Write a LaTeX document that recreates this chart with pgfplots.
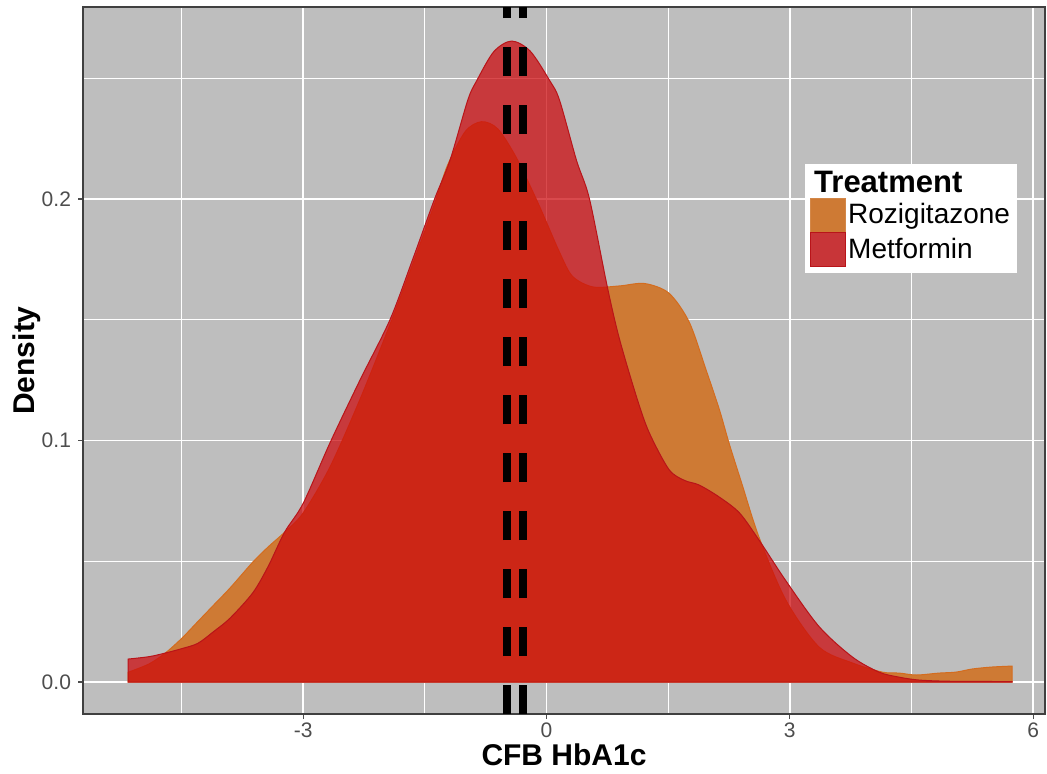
\documentclass[border=0pt]{standalone}
\usepackage{fontspec}
\setmainfont{Liberation Sans}
\usepackage{pgfplots}
\pgfplotsset{compat=1.18}

\definecolor{panelgrey}{RGB}{190,190,190}
\definecolor{rosiFill}{RGB}{206,122,52}
\definecolor{rosiLine}{RGB}{212,108,30}
\definecolor{metFill}{RGB}{204,8,12}
\definecolor{metLine}{RGB}{185,20,25}
\definecolor{metKey}{RGB}{200,53,56}
\definecolor{tickgrey}{RGB}{77,77,77}

\begin{document}
\begin{tikzpicture}
\useasboundingbox (0,0) rectangle (523.5pt,386.5pt);
\begin{axis}[
  at={(41.5pt,29.5pt)}, anchor=south west,
  scale only axis, width=481pt, height=353.5pt,
  xmin=-5.715, xmax=6.147, ymin=-0.01325, ymax=0.2795,
  xtick={-3,0,3,6}, minor xtick={-4.5,-1.5,1.5,4.5},
  ytick={0,0.1,0.2}, minor ytick={0.05,0.15,0.25},
  yticklabel style={/pgf/number format/.cd, fixed, fixed zerofill, precision=1},
  /pgf/number format/assume math mode=true,
  grid=both,
  major grid style={white, line width=0.8pt},
  minor grid style={white, line width=0.4pt},
  axis background/.style={fill=panelgrey},
  axis line style={draw=black!75, line width=0.6pt},
  tick style={tickgrey, line width=0.6pt},
  tick align=outside, major tick length=2.5pt, minor tick length=0pt,
  xtick pos=lower, ytick pos=left,
  ticklabel style={font=\fontsize{10.5}{12}\selectfont, text=tickgrey},
  xticklabel style={yshift=1.5pt},
  xlabel={CFB HbA1c}, ylabel={Density},
  label style={font=\bfseries\fontsize{15}{18}\selectfont},
  xlabel style={at={(axis description cs:0.5,-0.057)}, anchor=center},
  ylabel style={at={(axis description cs:-0.0582,0.5)}, anchor=center},
  legend style={at={(axis description cs:0.7505,0.779)}, anchor=north west,
    draw=none, fill=white, inner xsep=2.5pt, inner ysep=3pt, row sep=0pt,
    font=\fontsize{14}{16}\selectfont,
    nodes={inner sep=1pt},
    /tikz/every even column/.append style={column sep=2pt}},
  legend cell align=left,
  legend image code/.code={\draw[#1] (0pt,-8.4pt) rectangle (17.5pt,8.4pt);},
]
\addlegendimage{empty legend}
\addlegendentry{\hspace{-17pt}\textbf{\fontsize{15.5}{18}\selectfont Treatment}}
\addlegendimage{fill=rosiFill, draw=rosiFill!90!white}
\addlegendentry{Rozigitazone}
\addlegendimage{fill=metKey, draw=metLine}
\addlegendentry{Metformin}

% Rozigitazone density
\addplot[forget plot, smooth, tension=0.5, fill=rosiFill, draw=rosiLine, line width=0.5pt] coordinates {
(-5.16,0.004) (-4.9,0.0075) (-4.7,0.012) (-4.5,0.018) (-4.3,0.025) (-4.1,0.032)
(-3.9,0.039) (-3.62,0.0497) (-3.43,0.056) (-3.23,0.062) (-3.0,0.070) (-2.67,0.089)
(-2.3,0.117) (-1.93,0.148) (-1.65,0.173) (-1.38,0.198) (-1.22,0.214) (-1.0,0.228)
(-0.8,0.232) (-0.6,0.229) (-0.37,0.217) (-0.1,0.198) (0.16,0.178) (0.32,0.168)
(0.57,0.1636) (0.9,0.164) (1.21,0.165) (1.51,0.161) (1.76,0.149) (1.97,0.129)
(2.13,0.113) (2.25,0.099) (2.41,0.082) (2.62,0.060) (2.95,0.034) (3.36,0.0145)
(3.77,0.0079) (4.14,0.0041) (4.35,0.0037) (4.56,0.0029) (4.84,0.0037) (5.05,0.0041)
(5.25,0.0054) (5.49,0.0062) (5.74,0.0066)
} \closedcycle;

% Metformin density
\addplot[forget plot, smooth, tension=0.5, fill=metFill, fill opacity=0.73, draw=metLine, line width=0.5pt] coordinates {
(-5.16,0.0095) (-4.9,0.0105) (-4.7,0.012) (-4.5,0.0138) (-4.3,0.016) (-4.1,0.021)
(-3.9,0.0265) (-3.62,0.037) (-3.43,0.048) (-3.23,0.062) (-3.0,0.074) (-2.67,0.099)
(-2.3,0.125) (-1.93,0.150) (-1.65,0.175) (-1.38,0.2) (-1.19,0.216) (-0.97,0.241)
(-0.86,0.249) (-0.65,0.261) (-0.43,0.2654) (-0.2,0.2612) (0.04,0.249) (0.16,0.241)
(0.37,0.216) (0.53,0.2) (0.75,0.1636) (0.9,0.142) (1.12,0.117) (1.27,0.103)
(1.51,0.088) (1.7,0.0835) (1.88,0.0816) (2.13,0.0766) (2.38,0.070) (2.62,0.0588)
(2.95,0.042) (3.36,0.023) (3.77,0.0104) (4.1,0.0041) (4.35,0.002) (4.6,0.0008)
(5.0,0.0003) (5.74,0.0002)
} \closedcycle;

% group means
\addplot[forget plot, black, line width=3.6pt, dash pattern=on 14.5pt off 14.5pt]
  coordinates {(-0.487,-0.01325) (-0.487,0.2795)};
\addplot[forget plot, black, line width=3.6pt, dash pattern=on 14.5pt off 14.5pt]
  coordinates {(-0.29,-0.01325) (-0.29,0.2795)};
\end{axis}
\end{tikzpicture}
\end{document}
